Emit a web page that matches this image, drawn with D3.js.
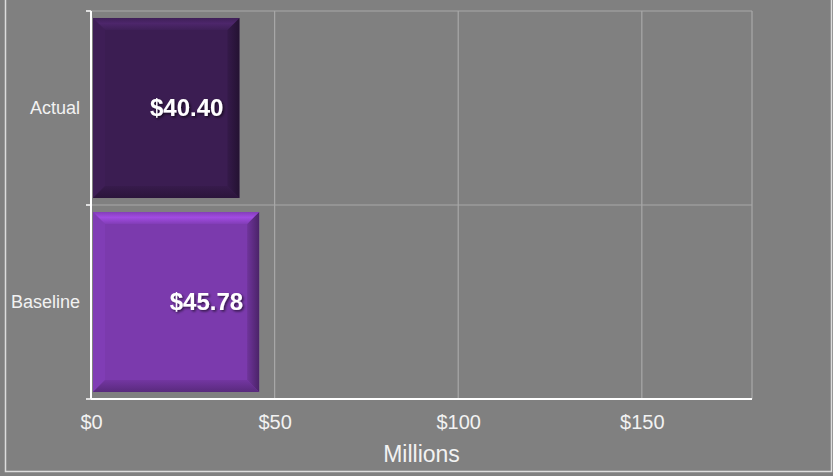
<!DOCTYPE html>
<html>
<head>
<meta charset="utf-8">
<script src="https://cdn.jsdelivr.net/npm/d3@7"></script>
<style>
  html, body { margin: 0; padding: 0; background: #808080; }
  svg { display: block; }
</style>
</head>
<body>
<svg id="chart" width="833" height="476"></svg>
<script>
const categories = ["Actual", "Baseline"];
const values = [40.40, 45.78];
const barColors = ["#3b1d52", "#7b3aad"];
const xTicks = [0, 50, 100, 150];
const xMax = 180;
const xTitle = "Millions";

const W = 833, H = 476;
const margin = { left: 91, right: 81, top: 11, bottom: 77 };
const svg = d3.select("#chart");

svg.append("rect").attr("width", W).attr("height", H).attr("fill", "#808080");
// outer border
svg.append("rect").attr("x", 5.5).attr("y", -5).attr("width", 826).attr("height", 476.5)
  .attr("fill", "none").attr("stroke", "#dcdcdc").attr("stroke-width", 1.5);

const x = d3.scaleLinear().domain([0, xMax]).range([margin.left, W - margin.right]);
const y = d3.scaleBand().domain(categories).range([margin.top, H - margin.bottom]).paddingInner(0.072).paddingOuter(0.036);

const x0 = x(0), x1 = x(xMax), y0 = margin.top, y1 = H - margin.bottom;

// gridlines
const g = svg.append("g");
g.selectAll(".vg").data(xTicks.filter(d => d > 0)).join("line")
  .attr("x1", d => x(d)).attr("x2", d => x(d)).attr("y1", y0).attr("y2", y1)
  .attr("stroke", "#a8a8a8").attr("stroke-width", 1.2);
// horizontal category boundary
const bounds = [y0, (y0 + y1) / 2];
g.selectAll(".hg").data(bounds).join("line")
  .attr("x1", x0).attr("x2", x1).attr("y1", d => d).attr("y2", d => d)
  .attr("stroke", "#a8a8a8").attr("stroke-width", 1.2);
// right border
g.append("line").attr("x1", x1).attr("x2", x1).attr("y1", y0).attr("y2", y1)
  .attr("stroke", "#a8a8a8").attr("stroke-width", 1.2);

// bars with bevel
const defs = svg.append("defs");
const f = defs.append("filter").attr("id", "ts").attr("x", "-20%").attr("y", "-20%").attr("width", "140%").attr("height", "140%");
f.append("feDropShadow").attr("dx", 1.5).attr("dy", 1.5).attr("stdDeviation", 1).attr("flood-color", "#000").attr("flood-opacity", 0.6);

categories.forEach((c, i) => {
  const base = d3.color(barColors[i]);
  const bx = x0 + 2, bw = x(values[i]) - bx;
  const by = y(c), bh = y.bandwidth();
  const b = 12;
  const gg = svg.append("g");
  // top gradient
  const gid = "gt" + i;
  const gt = defs.append("linearGradient").attr("id", gid).attr("x1", 0).attr("y1", 0).attr("x2", 0).attr("y2", 1);
  gt.append("stop").attr("offset", "0%").attr("stop-color", base.brighter(0.2));
  gt.append("stop").attr("offset", "45%").attr("stop-color", base.brighter(0.75));
  gt.append("stop").attr("offset", "100%").attr("stop-color", base.brighter(0.15));
  const rid = "gr" + i;
  const gr = defs.append("linearGradient").attr("id", rid).attr("x1", 0).attr("y1", 0).attr("x2", 1).attr("y2", 0);
  gr.append("stop").attr("offset", "0%").attr("stop-color", base.darker(0.3));
  gr.append("stop").attr("offset", "100%").attr("stop-color", base.darker(1.4));
  const bid = "gb" + i;
  const gb = defs.append("linearGradient").attr("id", bid).attr("x1", 0).attr("y1", 0).attr("x2", 0).attr("y2", 1);
  gb.append("stop").attr("offset", "0%").attr("stop-color", base.darker(0.2));
  gb.append("stop").attr("offset", "100%").attr("stop-color", base.darker(0.9));

  gg.append("rect").attr("x", bx).attr("y", by).attr("width", bw).attr("height", bh).attr("fill", base);
  const L = bx, R = bx + bw, T = by, B = by + bh;
  const poly = pts => pts.map(p => p.join(",")).join(" ");
  // left
  gg.append("polygon").attr("points", poly([[L, T], [L + b, T + b], [L + b, B - b], [L, B]])).attr("fill", base.brighter(0.12));
  // bottom
  gg.append("polygon").attr("points", poly([[L, B], [L + b, B - b], [R - b, B - b], [R, B]])).attr("fill", `url(#${bid})`);
  // right
  gg.append("polygon").attr("points", poly([[R, T], [R, B], [R - b, B - b], [R - b, T + b]])).attr("fill", `url(#${rid})`);
  // top
  gg.append("polygon").attr("points", poly([[L, T], [R, T], [R - b, T + b], [L + b, T + b]])).attr("fill", `url(#${gid})`);

  // value label
  svg.append("text").attr("x", x(values[i]) - 16).attr("y", by + bh / 2 + 8)
    .attr("text-anchor", "end").attr("fill", "#ffffff")
    .attr("font-family", "Liberation Sans, Arial, sans-serif").attr("font-weight", "bold").attr("font-size", 24)
    .attr("filter", "url(#ts)")
    .text("$" + values[i].toFixed(2));
});

// axes
const xAxis = d3.axisBottom(x).tickValues(xTicks).tickSize(0).tickPadding(16).tickFormat(d => "$" + d);
const xa = svg.append("g").attr("transform", `translate(0,${y1})`).call(xAxis);
xa.select(".domain").remove();
xa.selectAll("text").attr("fill", "#f2f2f2").attr("font-family", "Liberation Sans, Arial, sans-serif").attr("font-size", 20);

const yAxis = d3.axisLeft(y).tickSize(0).tickPadding(11);
const ya = svg.append("g").attr("transform", `translate(${x0},0)`).call(yAxis);
ya.select(".domain").remove();
ya.selectAll("text").attr("fill", "#f2f2f2").attr("font-family", "Liberation Sans, Arial, sans-serif").attr("font-size", 18).attr("dy", "0.32em");

// axis lines
svg.append("line").attr("x1", x0).attr("x2", x1).attr("y1", y1).attr("y2", y1).attr("stroke", "#ffffff").attr("stroke-width", 2);
svg.append("line").attr("x1", x0).attr("x2", x0).attr("y1", y0).attr("y2", y1).attr("stroke", "#ffffff").attr("stroke-width", 2);
// y ticks at category boundaries
svg.selectAll(".yt").data([y0, (y0 + y1) / 2, y1]).join("line")
  .attr("x1", x0 - 5).attr("x2", x0).attr("y1", d => d).attr("y2", d => d)
  .attr("stroke", "#ffffff").attr("stroke-width", 1.5);

svg.append("text").attr("x", (x0 + x1) / 2).attr("y", 462).attr("text-anchor", "middle")
  .attr("fill", "#f2f2f2").attr("font-family", "Liberation Sans, Arial, sans-serif").attr("font-size", 23)
  .text(xTitle);
</script>
</body>
</html>
